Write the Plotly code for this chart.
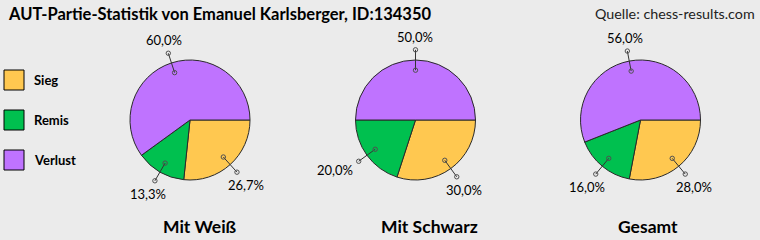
import math
import plotly.graph_objects as go

# ---- data ----
categories = ["Sieg", "Remis", "Verlust"]
pie_titles = ["Mit Weiß", "Mit Schwarz", "Gesamt"]
counts_weiss = [4, 2, 9]
counts_schwarz = [3, 2, 5]
counts_gesamt = [7, 4, 14]
title_text = "AUT-Partie-Statistik von Emanuel Karlsberger, ID:134350"
source_text = "Quelle: chess-results.com"

# ---- style ----
W, H = 760, 240
BG = "#EBEBEB"
COLORS = ["#FFC850", "#00C04F", "#BF73FF"]
FONT = "Lato"
R = 60
CENTERS = [(190, 120), (415.5, 120), (640.5, 120)]
series = [counts_weiss, counts_schwarz, counts_gesamt]


def px(x):
    return x / W


def py(y):
    return 1 - y / H


fig = go.Figure()
shapes = []
annotations = []

for (cx, cy), vals, name in zip(CENTERS, series, pie_titles):
    fig.add_trace(go.Pie(
        labels=categories, values=vals, sort=False, direction="clockwise",
        rotation=90, textinfo="none", showlegend=False, name=name,
        marker=dict(colors=COLORS, line=dict(color="#2a2a2a", width=1)),
        domain=dict(x=[px(cx - R), px(cx + R)], y=[py(cy + R), py(cy - R)]),
        hovertemplate="%{label}: %{percent}<extra>" + name + "</extra>",
    ))
    total = sum(vals)
    start = 0.0
    for v in vals:
        frac = v / total
        mid = math.radians((start + frac / 2) * 360)
        start += frac
        dx, dy = math.cos(mid), math.sin(mid)
        ix, iy = cx + 0.83 * R * dx, cy + 0.83 * R * dy
        ox, oy = cx + 1.17 * R * dx, cy + 1.17 * R * dy
        shapes.append(dict(type="line", xref="paper", yref="paper", layer="above",
                           x0=px(ix), y0=py(iy), x1=px(ox), y1=py(oy),
                           line=dict(color="#333333", width=1)))
        for (qx, qy) in [(ix, iy), (ox, oy)]:
            shapes.append(dict(type="circle", xref="paper", yref="paper", layer="above",
                               x0=px(qx - 2.2), x1=px(qx + 2.2), y0=py(qy - 2.2), y1=py(qy + 2.2),
                               line=dict(color="#505050", width=1)))
        if abs(dy) >= 0.7:
            lx = ox + dx * 13
            ly = oy + (13 if dy > 0 else -13)
            xa = "center"
        else:
            lx = ox + (-4 if dx < 0 else 4)
            ly = oy + 9 * (1 if dy > 0 else -1)
            xa = "right" if dx < 0 else "left"
        label = f"{frac * 100:.1f}%".replace(".", ",")
        annotations.append(dict(x=px(lx), y=py(ly), xref="paper", yref="paper",
                                text=label, showarrow=False, xanchor=xa, yanchor="middle",
                                font=dict(family=FONT, size=13, color="#000")))

# bottom titles
title_offsets = [10, 13.5, 7]
for (cx, cy), name, off in zip(CENTERS, pie_titles, title_offsets):
    annotations.append(dict(x=px(cx + off), y=py(226.5), xref="paper", yref="paper",
                            text=f"<b>{name}</b>", showarrow=False, xanchor="center",
                            yanchor="middle", font=dict(family=FONT, size=17.5, color="#000")))

# legend
for i, (cat, col) in enumerate(zip(categories, COLORS)):
    top = 70 + 40 * i
    shapes.append(dict(type="rect", xref="paper", yref="paper", layer="above",
                       x0=px(4), x1=px(24), y0=py(top + 20), y1=py(top),
                       fillcolor=col, line=dict(color="#000", width=1)))
    annotations.append(dict(x=px(32), y=py(top + 10), xref="paper", yref="paper",
                            text=f"<b>{cat}</b>", showarrow=False, xanchor="left",
                            yanchor="middle", font=dict(family=FONT, size=13, color="#000")))

annotations.append(dict(x=px(6), y=py(13.5), xref="paper", yref="paper",
                        text=f"<b>{title_text}</b>", showarrow=False, xanchor="left",
                        yanchor="middle", font=dict(family=FONT, size=16.5, color="#000")))
annotations.append(dict(x=px(757), y=py(13.5), xref="paper", yref="paper",
                        text=source_text, showarrow=False, xanchor="right",
                        yanchor="middle", font=dict(family=FONT, size=14.3, color="#222")))

fig.update_layout(
    width=W, height=H, margin=dict(l=0, r=0, t=0, b=0),
    paper_bgcolor=BG, plot_bgcolor=BG,
    shapes=shapes, annotations=annotations, showlegend=False,
)

fig.write_html("out.html")
